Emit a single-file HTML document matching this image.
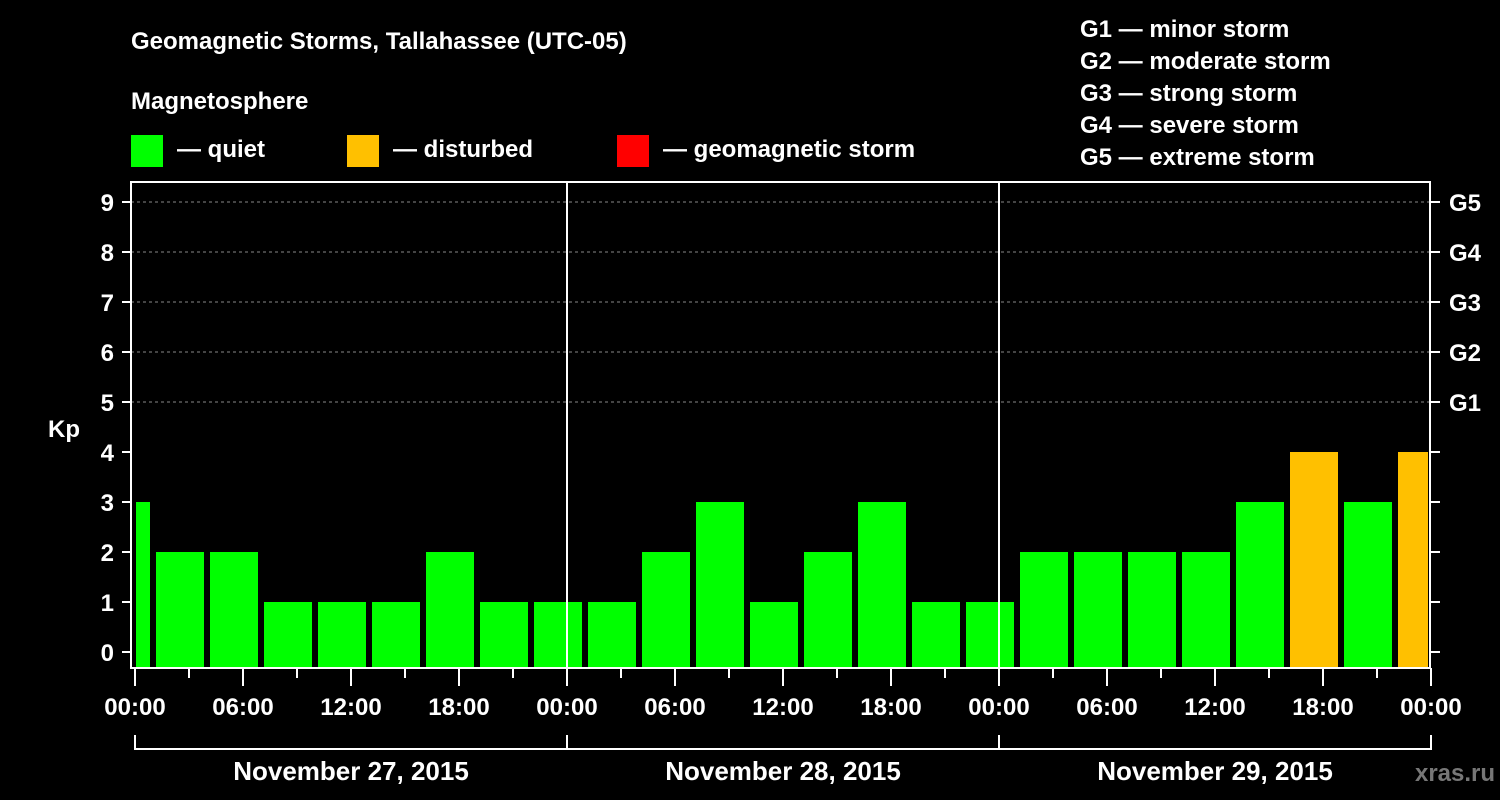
<!DOCTYPE html>
<html><head><meta charset="utf-8"><style>
html,body{margin:0;padding:0;background:#000;}
svg{display:block;font-family:"Liberation Sans",Arial,sans-serif;font-weight:bold;}
</style></head><body>
<svg id="chart" width="1500" height="800" viewBox="0 0 1500 800">
<rect width="1500" height="800" fill="#000"/>
<text x="131" y="49" fill="#fff" font-size="24">Geomagnetic Storms, Tallahassee (UTC-05)</text>
<text x="131" y="109" fill="#fff" font-size="24">Magnetosphere</text>
<g><rect x="131" y="135" width="32" height="32" fill="#00ff00"/><text x="177" y="157" fill="#fff" font-size="24">— quiet</text></g>
<g><rect x="347" y="135" width="32" height="32" fill="#ffc000"/><text x="393" y="157" fill="#fff" font-size="24">— disturbed</text></g>
<g><rect x="617" y="135" width="32" height="32" fill="#ff0000"/><text x="663" y="157" fill="#fff" font-size="24">— geomagnetic storm</text></g>
<g fill="#fff" font-size="24">
<text x="1080" y="37">G1 — minor storm</text>
<text x="1080" y="69">G2 — moderate storm</text>
<text x="1080" y="101">G3 — strong storm</text>
<text x="1080" y="133">G4 — severe storm</text>
<text x="1080" y="165">G5 — extreme storm</text>
</g>
<text x="64" y="437" fill="#fff" font-size="24" text-anchor="middle">Kp</text>
<text x="1455" y="781" fill="#777" font-size="24" text-anchor="middle">xras.ru</text>
<g id="plot"></g>
</svg>
<script>
const kpValues = [3,2,2,1,1,1,2,1,1, 1,2,3,1,2,3,1,1, 2,2,2,2,3,4,3,4];
const startHour = -2;
const stepHours = 3;
const dayLabels = ["November 27, 2015","November 28, 2015","November 29, 2015"];
const hourTicks = ["00:00","06:00","12:00","18:00"];
const gLabels = ["G1","G2","G3","G4","G5"];

const NS="http://www.w3.org/2000/svg";
const plot=document.getElementById('plot');
const X0=135, PXH=18, TOTAL=72;
const xs=h=>X0+h*PXH;
const ys=v=>652-v*50;
function mk(tag,attrs,parent){const e=document.createElementNS(NS,tag);for(const k in attrs)e.setAttribute(k,attrs[k]);(parent||plot).appendChild(e);return e;}

// gridlines
for(let v=5;v<=9;v++){
  const l=mk('line',{x1:131,x2:1430,y1:ys(v),y2:ys(v),stroke:'#888','stroke-dasharray':'3,3','stroke-width':1});
  
  
}
// bars
kpValues.forEach((v,i)=>{
  const h0=Math.max(0,startHour+i*stepHours), h1=Math.min(TOTAL,startHour+(i+1)*stepHours);
  const x0=xs(h0)+(h0===0?1:3), x1=xs(h1)-3;
  const col=v>=5?'#ff0000':(v>=4?'#ffc000':'#00ff00');
  const r=mk('rect',{x:x0,y:ys(v),width:x1-x0,height:668-ys(v),fill:col});
  
  
});
// day separators
for(let d=1;d<3;d++){
  const l=mk('line',{x1:xs(d*24),x2:xs(d*24),y1:182,y2:668,stroke:'#fff','stroke-width':2});
  
  
}
// frame
const fr=mk('rect',{x:131,y:182,width:1299,height:486,fill:'none',stroke:'#fff','stroke-width':2});


// y ticks
for(let v=0;v<=9;v++){
  mk('line',{x1:122,x2:131,y1:ys(v),y2:ys(v),stroke:'#fff','stroke-width':2});
  mk('line',{x1:1430,x2:1440,y1:ys(v),y2:ys(v),stroke:'#fff','stroke-width':2});
  const t=mk('text',{x:114,y:ys(v)+9,fill:'#fff','font-size':24,'text-anchor':'end'});
  t.textContent=v;
  
  
}
gLabels.forEach((g,i)=>{
  const t=mk('text',{x:1449,y:ys(5+i)+9,fill:'#fff','font-size':24});
  t.textContent=g;
  
  
});
// x ticks
for(let h=0;h<=TOTAL;h+=3){
  const major=h%6===0;
  mk('line',{x1:xs(h),x2:xs(h),y1:668,y2:major?686:678,stroke:'#fff','stroke-width':2});
  if(major){
    const t=mk('text',{x:xs(h),y:715,fill:'#fff','font-size':24,'text-anchor':'middle'});
    t.textContent=h===TOTAL?hourTicks[0]:hourTicks[(h%24)/6];
    
    
  }
}
// date bracket
mk('line',{x1:xs(0),x2:xs(TOTAL),y1:749,y2:749,stroke:'#fff','stroke-width':2});
for(let d=0;d<=3;d++) mk('line',{x1:xs(d*24),x2:xs(d*24),y1:735,y2:750,stroke:'#fff','stroke-width':2});
dayLabels.forEach((s,d)=>{
  const t=mk('text',{x:xs(d*24+12),y:780,fill:'#fff','font-size':26,'text-anchor':'middle'});
  t.textContent=s;
  
  
});
</script>
</body></html>
